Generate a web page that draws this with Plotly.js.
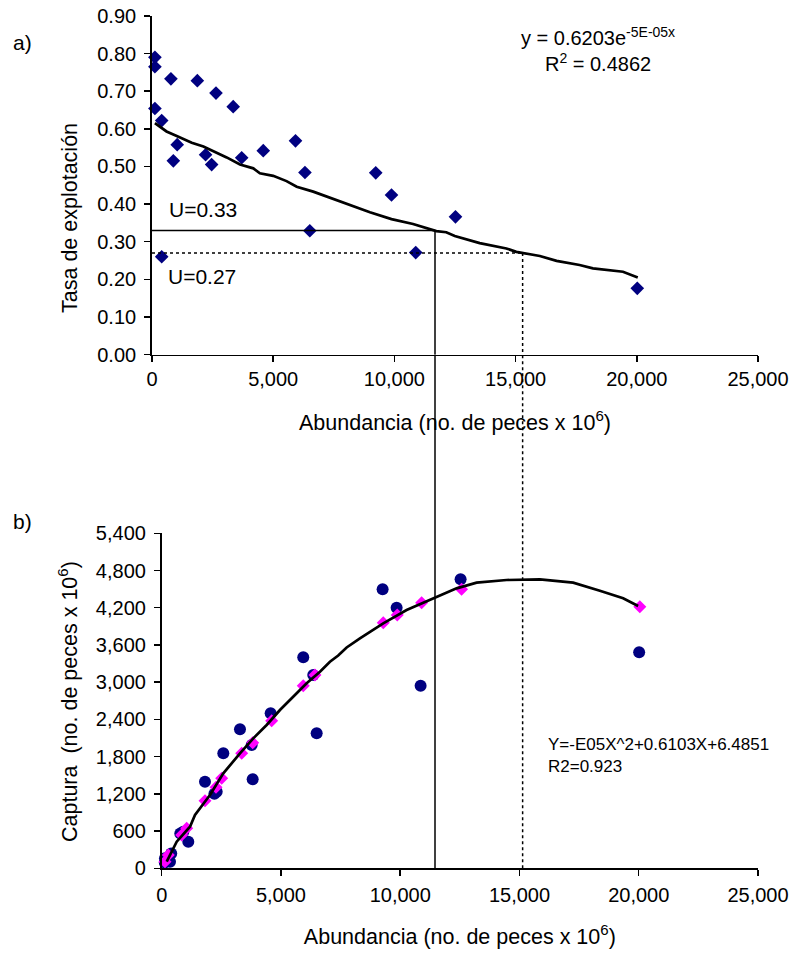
<!DOCTYPE html>
<html>
<head>
<meta charset="utf-8">
<script src="https://cdn.plot.ly/plotly-3.0.1.min.js"></script>
<style>html,body{margin:0;padding:0;background:#fff;}#chart{width:798px;height:957px;}</style>
</head>
<body>
<div id="chart"></div>
<script>
// ---- Panel a) : exploitation rate vs abundance ----
const abundA = [120, 120, 780, 1870, 2640, 3350, 120, 400, 1040, 880, 2210, 2460, 3700, 4590, 5920, 6310, 400, 6510, 9230, 9880, 12520, 10880, 20020];
const tasaA  = [0.790, 0.765, 0.733, 0.728, 0.695, 0.659, 0.654, 0.622, 0.558, 0.515, 0.531, 0.505, 0.523, 0.542, 0.568, 0.484, 0.260, 0.329, 0.483, 0.424, 0.366, 0.271, 0.176];

// fitted exponential curve as drawn
const fitAx = [120, 600, 1020, 1640, 2120, 2670, 3080, 3630, 4180, 4450, 5000, 5550, 5970, 6650, 7200, 7750, 8300, 8990, 9880, 10770, 11730, 12140, 12490, 13520, 14620, 15030, 16000, 16690, 17640, 18190, 19430, 20040];
const fitAy = [0.615, 0.593, 0.581, 0.563, 0.553, 0.537, 0.524, 0.505, 0.495, 0.482, 0.475, 0.461, 0.446, 0.433, 0.420, 0.406, 0.393, 0.378, 0.360, 0.347, 0.328, 0.325, 0.315, 0.296, 0.282, 0.273, 0.262, 0.249, 0.238, 0.229, 0.220, 0.205];

// reference exploitation rates and abundances where they meet the curve
const uLevels = [0.33, 0.27];
const uAbund  = [11675, 15290];

// ---- Panel b) : catch vs abundance ----
const abundB   = [5935, 6354, 4568, 3282, 2583, 6497, 3814, 1815, 2305, 2210, 3772, 905, 1115, 780, 348, 138, 130, 400, 250, 9262, 9849, 10855, 12531, 20017];
const capturaB = [3401, 3116, 2498, 2240, 1853, 2176, 1435, 1396, 1235, 1200, 1988, 590, 429, 560, 106, 161, 95, 240, 120, 4497, 4201, 2943, 4658, 3481];

// predicted catch (magenta diamonds)
const abundP = [138, 277, 838, 1048, 1815, 2276, 2515, 3353, 3814, 4610, 5935, 6425, 9288, 9875, 10897, 12573, 20046];
const predP  = [106, 214, 537, 645, 1090, 1305, 1451, 1853, 2024, 2379, 2943, 3116, 3959, 4083, 4281, 4497, 4217];

// fitted quadratic curve as drawn
const fitBx = [210, 629, 1186, 1396, 2024, 2583, 3282, 3839, 4400, 4958, 5377, 6077, 6635, 7054, 7400, 7754, 8311, 9288, 10268, 11384, 12364, 13203, 14460, 15855, 17251, 18370, 19346, 19975];
const fitBy = [106, 429, 671, 859, 1181, 1531, 1853, 2095, 2310, 2552, 2713, 2982, 3169, 3330, 3430, 3560, 3707, 3949, 4163, 4352, 4513, 4604, 4647, 4658, 4604, 4475, 4352, 4228];

const xTicks = [0, 5000, 10000, 15000, 20000, 25000];

const FONT = 'Liberation Sans, Arial, sans-serif';
const W = 798, H = 957;
// plot-area pixel boxes
const A = {l:152, r:758, t:16, b:354.5};
const B = {l:161.7, r:758, t:533.3, b:868.3};
const px = v => v / W, py = v => 1 - v / H;

const navy = '#000080';

const traces = [
  {x: abundA, y: tasaA, type: 'scatter', mode: 'markers', xaxis: 'x', yaxis: 'y',
   marker: {symbol: 'diamond', size: 10.5, color: navy}, showlegend: false, cliponaxis: false},
  {x: fitAx, y: fitAy, type: 'scatter', mode: 'lines', xaxis: 'x', yaxis: 'y',
   line: {color: '#000', width: 2.7}, showlegend: false},
  {x: abundB, y: capturaB, type: 'scatter', mode: 'markers', xaxis: 'x2', yaxis: 'y2',
   marker: {symbol: 'circle', size: 12, color: navy}, showlegend: false, cliponaxis: false},
  {x: abundP, y: predP, type: 'scatter', mode: 'markers', xaxis: 'x2', yaxis: 'y2',
   marker: {symbol: 'diamond', size: 10, color: '#FF00FF'}, showlegend: false, cliponaxis: false},
  {x: fitBx, y: fitBy, type: 'scatter', mode: 'lines', xaxis: 'x2', yaxis: 'y2',
   line: {color: '#000', width: 2.7}, showlegend: false}
];

const axisCommon = {
  showgrid: false, zeroline: false, showline: true, linecolor: '#000', linewidth: 1.8,
  ticks: 'outside', ticklen: 6, tickwidth: 1.5, tickcolor: '#000',
  tickfont: {family: FONT, size: 20, color: '#000'}, fixedrange: true
};

const titleFont = {family: FONT, size: 21.5, color: '#000'};
const xTitle = 'Abundancia (no. de peces x 10<sup>6</sup>)';

const layout = {
  width: W, height: H,
  margin: {l: 0, r: 0, t: 0, b: 0},
  paper_bgcolor: '#fff', plot_bgcolor: '#fff',
  font: {family: FONT, color: '#000'},
  showlegend: false,
  xaxis: Object.assign({}, axisCommon, {
    domain: [px(A.l), px(A.r)], anchor: 'y', range: [0, 25000],
    tickvals: xTicks, tickformat: ',d',
    title: {text: xTitle, font: titleFont}
  }),
  yaxis: Object.assign({}, axisCommon, {
    domain: [py(A.b), py(A.t)], anchor: 'x', range: [0, 0.9],
    dtick: 0.1, tick0: 0, tickformat: '.2f', ticklabelstandoff: 4
  }),
  xaxis2: Object.assign({}, axisCommon, {
    domain: [px(B.l), px(B.r)], anchor: 'y2', range: [0, 25000],
    tickvals: xTicks, tickformat: ',d', ticklabelstandoff: 2,
    title: {text: xTitle, font: titleFont}
  }),
  yaxis2: Object.assign({}, axisCommon, {
    domain: [py(B.b), py(B.t)], anchor: 'x2', range: [0, 5400],
    dtick: 600, tick0: 0, tickformat: ',d', ticklabelstandoff: 4
  }),
  shapes: [
    // horizontal reference lines in panel a
    {type: 'line', xref: 'x', yref: 'y', x0: 0, x1: uAbund[0], y0: uLevels[0], y1: uLevels[0],
     line: {color: '#000', width: 1.5}},
    {type: 'line', xref: 'x', yref: 'y', x0: 0, x1: uAbund[1], y0: uLevels[1], y1: uLevels[1],
     line: {color: '#000', width: 1.5, dash: 'dot'}},
    // vertical lines, part inside panel a
    {type: 'line', xref: 'x', yref: 'y', x0: uAbund[0], x1: uAbund[0], y0: uLevels[0], y1: 0,
     line: {color: '#000', width: 1.5}},
    {type: 'line', xref: 'x', yref: 'y', x0: uAbund[1], x1: uAbund[1], y0: uLevels[1], y1: 0,
     line: {color: '#000', width: 1.5, dash: 'dot'}},
    // vertical lines continuing down to panel b axis
    {type: 'line', xref: 'x', yref: 'paper', x0: uAbund[0], x1: uAbund[0], y0: py(B.b), y1: py(A.b),
     line: {color: '#000', width: 1.5}},
    {type: 'line', xref: 'x', yref: 'paper', x0: uAbund[1], x1: uAbund[1], y0: py(B.b), y1: py(A.b),
     line: {color: '#000', width: 1.5, dash: 'dot'}}
  ],
  annotations: [
    // y-axis titles
    {xref: 'paper', yref: 'paper', x: px(70), y: py(218), xanchor: 'center', yanchor: 'middle',
     text: 'Tasa de explotación', textangle: -90, showarrow: false, font: titleFont},
    {xref: 'paper', yref: 'paper', x: px(68), y: py(702), xanchor: 'center', yanchor: 'middle',
     text: 'Captura  (no. de peces x 10<sup>6</sup>)', textangle: -90, showarrow: false, font: titleFont},
    // panel labels
    {xref: 'paper', yref: 'paper', x: px(22), y: py(43), xanchor: 'center', yanchor: 'middle',
     text: 'a)', showarrow: false, font: {family: FONT, size: 21, color: '#000'}},
    {xref: 'paper', yref: 'paper', x: px(22), y: py(521), xanchor: 'center', yanchor: 'middle',
     text: 'b)', showarrow: false, font: {family: FONT, size: 21, color: '#000'}},
    // fit equations and reference labels
    {xref: 'paper', yref: 'paper', x: px(598), y: py(49), xanchor: 'center', yanchor: 'middle',
     text: 'y = 0.6203e<sup>-5E-05x</sup><br>R<sup>2</sup> = 0.4862', showarrow: false, align: 'center',
     font: {family: FONT, size: 20, color: '#000'}},
    {xref: 'paper', yref: 'paper', x: px(167), y: py(209), xanchor: 'left', yanchor: 'middle',
     text: 'U=0.33', showarrow: false, font: {family: FONT, size: 21, color: '#000'}},
    {xref: 'paper', yref: 'paper', x: px(166), y: py(277), xanchor: 'left', yanchor: 'middle',
     text: 'U=0.27', showarrow: false, font: {family: FONT, size: 21, color: '#000'}},
    {xref: 'paper', yref: 'paper', x: px(546), y: py(755), xanchor: 'left', yanchor: 'middle',
     text: 'Y=-E05X^2+0.6103X+6.4851<br>R2=0.923', showarrow: false, align: 'left',
     font: {family: FONT, size: 17, color: '#000'}}
  ]
};

Plotly.newPlot('chart', traces, layout, {displayModeBar: false, staticPlot: true});
</script>
</body>
</html>
